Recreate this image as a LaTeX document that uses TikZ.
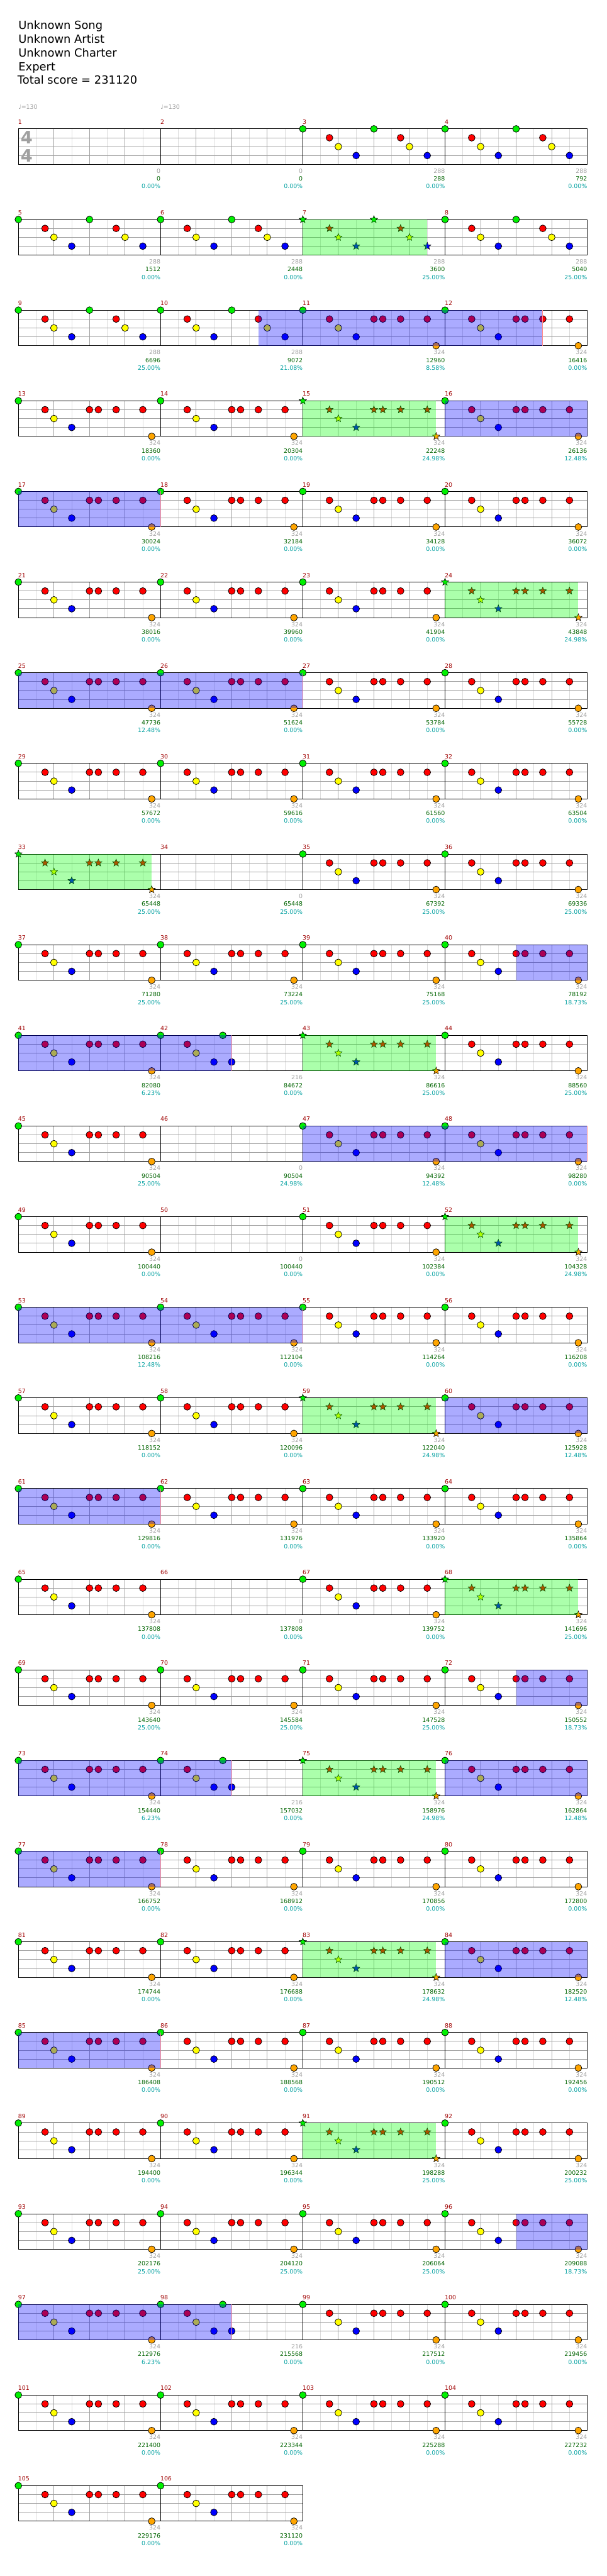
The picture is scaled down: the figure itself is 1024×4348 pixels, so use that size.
\documentclass[tikz,border=0pt]{standalone}
\usepackage{fontspec}
\setmainfont{DejaVu Sans}
\usetikzlibrary{shapes.geometric}

\definecolor{lane0}{RGB}{0,240,0}
\definecolor{lane1}{RGB}{255,0,0}
\definecolor{lane2}{RGB}{255,255,0}
\definecolor{lane3}{RGB}{0,0,255}
\definecolor{lane4}{RGB}{255,165,0}
\definecolor{numcol}{RGB}{160,0,0}
\definecolor{ptscol}{RGB}{160,160,160}
\definecolor{totcol}{RGB}{0,100,0}
\definecolor{pctcol}{RGB}{0,160,160}
\definecolor{beatcol}{RGB}{160,160,160}
\definecolor{subcol}{RGB}{220,220,220}

% note lists: lane/eighth
\def\patA{0/0,1/1.5,2/2,3/3,0/4,1/5.5,2/6,3/7}
\def\patB{0/0,1/1.5,2/2,3/3,1/4,1/4.5,1/5.5,1/7,4/7.5}
\def\patS{0/0,1/1.5,2/2,3/3,0/3.5,3/4}
\newcommand\putnotes[2]{\foreach \l/\e [count=\i] in #2 {\node[#1, fill=lane\l] (n\m-\i) at ({\mx+30*\e},{\my+15*\l}) {};}}
\newcommand\gemsE{}
\newcommand\gemsA{\putnotes{gem}{\patA}}
\newcommand\gemsB{\putnotes{gem}{\patB}}
\newcommand\gemsS{\putnotes{gem}{\patS}}
\newcommand\gemsAS{\putnotes{stargem}{\patA}\fill[spzone] (\mx,\my) rectangle ++(210,60);}
\newcommand\gemsBS{\putnotes{stargem}{\patB}\fill[spzone] (\mx,\my) rectangle ++(225,60);}

\begin{document}
\begin{tikzpicture}[x=1pt, y=-1pt,
    head/.style={anchor=base west, inner sep=0, font=\fontsize{19}{19}\selectfont},
    small/.style={inner sep=0, font=\fontsize{10}{10}\selectfont},
    mnum/.style={small, anchor=west, text=numcol},
    pts/.style={small, anchor=east, text=ptscol},
    tot/.style={small, anchor=east, text=totcol},
    pct/.style={small, anchor=east, text=pctcol},
    timesig/.style={inner sep=0, text=ptscol, font=\fontsize{29}{29}\selectfont\bfseries},
    subline/.style={subcol, line width=1pt},
    beatline/.style={beatcol, line width=1pt},
    barline/.style={black, line width=1pt},
    gem/.style={circle, draw=black, line width=0.8pt, minimum size=11.5pt, inner sep=0},
    stargem/.style={star, star points=5, star point ratio=2.3, draw=black, line width=0.6pt, minimum size=13pt, inner sep=0},
    spzone/.style={fill={rgb,255:red,0;green,255;blue,0}, fill opacity=0.33},
    odzone/.style={fill={rgb,255:red,0;green,0;blue,255}, fill opacity=0.33},
    odend/.style={red!45, line width=1pt}]
  \useasboundingbox[fill=white] (0,0) rectangle (1024,4348);

  \node[head] (song) at (31,49.3) {Unknown Song};
  \node[head] (artist) at (31,72.7) {Unknown Artist};
  \node[head] (charter) at (31,96) {Unknown Charter};
  \node[head] (level) at (31,119) {Expert};
  \node[head] (total) at (29.5,142) {Total score = 231120};
  \node[small, anchor=west, text=ptscol] (bpm1) at (31,180) {♩=130};
  \node[small, anchor=west, text=ptscol] (bpm2) at (271,180) {♩=130};

  \foreach \m/\kind/\pts/\tot/\pct in {
      1/E/0/0/0.00, 2/E/0/0/0.00, 3/A/288/288/0.00, 4/A/288/792/0.00,
      5/A/288/1512/0.00, 6/A/288/2448/0.00, 7/AS/288/3600/25.00, 8/A/288/5040/25.00,
      9/A/288/6696/25.00, 10/A/288/9072/21.08, 11/B/324/12960/8.58, 12/B/324/16416/0.00,
      13/B/324/18360/0.00, 14/B/324/20304/0.00, 15/BS/324/22248/24.98, 16/B/324/26136/12.48,
      17/B/324/30024/0.00, 18/B/324/32184/0.00, 19/B/324/34128/0.00, 20/B/324/36072/0.00,
      21/B/324/38016/0.00, 22/B/324/39960/0.00, 23/B/324/41904/0.00, 24/BS/324/43848/24.98,
      25/B/324/47736/12.48, 26/B/324/51624/0.00, 27/B/324/53784/0.00, 28/B/324/55728/0.00,
      29/B/324/57672/0.00, 30/B/324/59616/0.00, 31/B/324/61560/0.00, 32/B/324/63504/0.00,
      33/BS/324/65448/25.00, 34/E/0/65448/25.00, 35/B/324/67392/25.00, 36/B/324/69336/25.00,
      37/B/324/71280/25.00, 38/B/324/73224/25.00, 39/B/324/75168/25.00, 40/B/324/78192/18.73,
      41/B/324/82080/6.23, 42/S/216/84672/0.00, 43/BS/324/86616/25.00, 44/B/324/88560/25.00,
      45/B/324/90504/25.00, 46/E/0/90504/24.98, 47/B/324/94392/12.48, 48/B/324/98280/0.00,
      49/B/324/100440/0.00, 50/E/0/100440/0.00, 51/B/324/102384/0.00, 52/BS/324/104328/24.98,
      53/B/324/108216/12.48, 54/B/324/112104/0.00, 55/B/324/114264/0.00, 56/B/324/116208/0.00,
      57/B/324/118152/0.00, 58/B/324/120096/0.00, 59/BS/324/122040/24.98, 60/B/324/125928/12.48,
      61/B/324/129816/0.00, 62/B/324/131976/0.00, 63/B/324/133920/0.00, 64/B/324/135864/0.00,
      65/B/324/137808/0.00, 66/E/0/137808/0.00, 67/B/324/139752/0.00, 68/BS/324/141696/25.00,
      69/B/324/143640/25.00, 70/B/324/145584/25.00, 71/B/324/147528/25.00, 72/B/324/150552/18.73,
      73/B/324/154440/6.23, 74/S/216/157032/0.00, 75/BS/324/158976/24.98, 76/B/324/162864/12.48,
      77/B/324/166752/0.00, 78/B/324/168912/0.00, 79/B/324/170856/0.00, 80/B/324/172800/0.00,
      81/B/324/174744/0.00, 82/B/324/176688/0.00, 83/BS/324/178632/24.98, 84/B/324/182520/12.48,
      85/B/324/186408/0.00, 86/B/324/188568/0.00, 87/B/324/190512/0.00, 88/B/324/192456/0.00,
      89/B/324/194400/0.00, 90/B/324/196344/0.00, 91/BS/324/198288/25.00, 92/B/324/200232/25.00,
      93/B/324/202176/25.00, 94/B/324/204120/25.00, 95/B/324/206064/25.00, 96/B/324/209088/18.73,
      97/B/324/212976/6.23, 98/S/216/215568/0.00, 99/B/324/217512/0.00, 100/B/324/219456/0.00,
      101/B/324/221400/0.00, 102/B/324/223344/0.00, 103/B/324/225288/0.00, 104/B/324/227232/0.00,
      105/B/324/229176/0.00, 106/B/324/231120/0.00} {
    \pgfmathtruncatemacro\rk{(\m-1)/4}
    \pgfmathtruncatemacro\cj{\m-1-4*\rk}
    \pgfmathsetmacro\mx{31+240*\cj}
    \pgfmathsetmacro\my{217.5+153*\rk}
    \foreach \e in {1,3,5,7} \draw[subline] ({\mx+30*\e},\my) -- ++(0,60);
    \foreach \e in {2,4,6} \draw[beatline] ({\mx+30*\e},\my) -- ++(0,60);
    \foreach \l in {1,2,3} \draw[beatline] (\mx,{\my+15*\l}) -- ++(240,0);
    \draw[barline] (\mx,\my) rectangle ++(240,60);
    \node[mnum] (num\m) at ({\mx-0.5},{\my-11.5}) {\m};
    \node[pts] (pts\m) at ({\mx+240},{\my+71.3}) {\pts};
    \node[tot] (tot\m) at ({\mx+240},{\my+84.3}) {\tot};
    \node[pct] (pct\m) at ({\mx+240},{\my+97.3}) {\pct\%};
    \csname gems\kind\endcsname
  }

  \node[timesig] (tsa) at (45,232.5) {4};
  \node[timesig] (tsb) at (45,262.5) {4};

  % star power activations: row/start/end/ends here
  \foreach \rk/\xa/\xb/\fin in {2/436/916/1, 3/751/991/0, 4/31/271/1, 6/31/511/1,
      9/871/991/0, 10/31/391/1, 11/511/991/1, 13/31/511/1, 14/751/991/0, 15/31/271/1,
      17/871/991/0, 18/31/391/1, 18/751/991/0, 19/31/271/1, 20/751/991/0, 21/31/271/1,
      23/871/991/0, 24/31/391/1} {
    \pgfmathsetmacro\my{217.5+153*\rk}
    \fill[odzone] (\xa,\my) rectangle (\xb,{\my+60});
    \ifnum\fin=1 \draw[odend] (\xb,\my) -- ++(0,60); \fi
  }
\end{tikzpicture}
\end{document}
